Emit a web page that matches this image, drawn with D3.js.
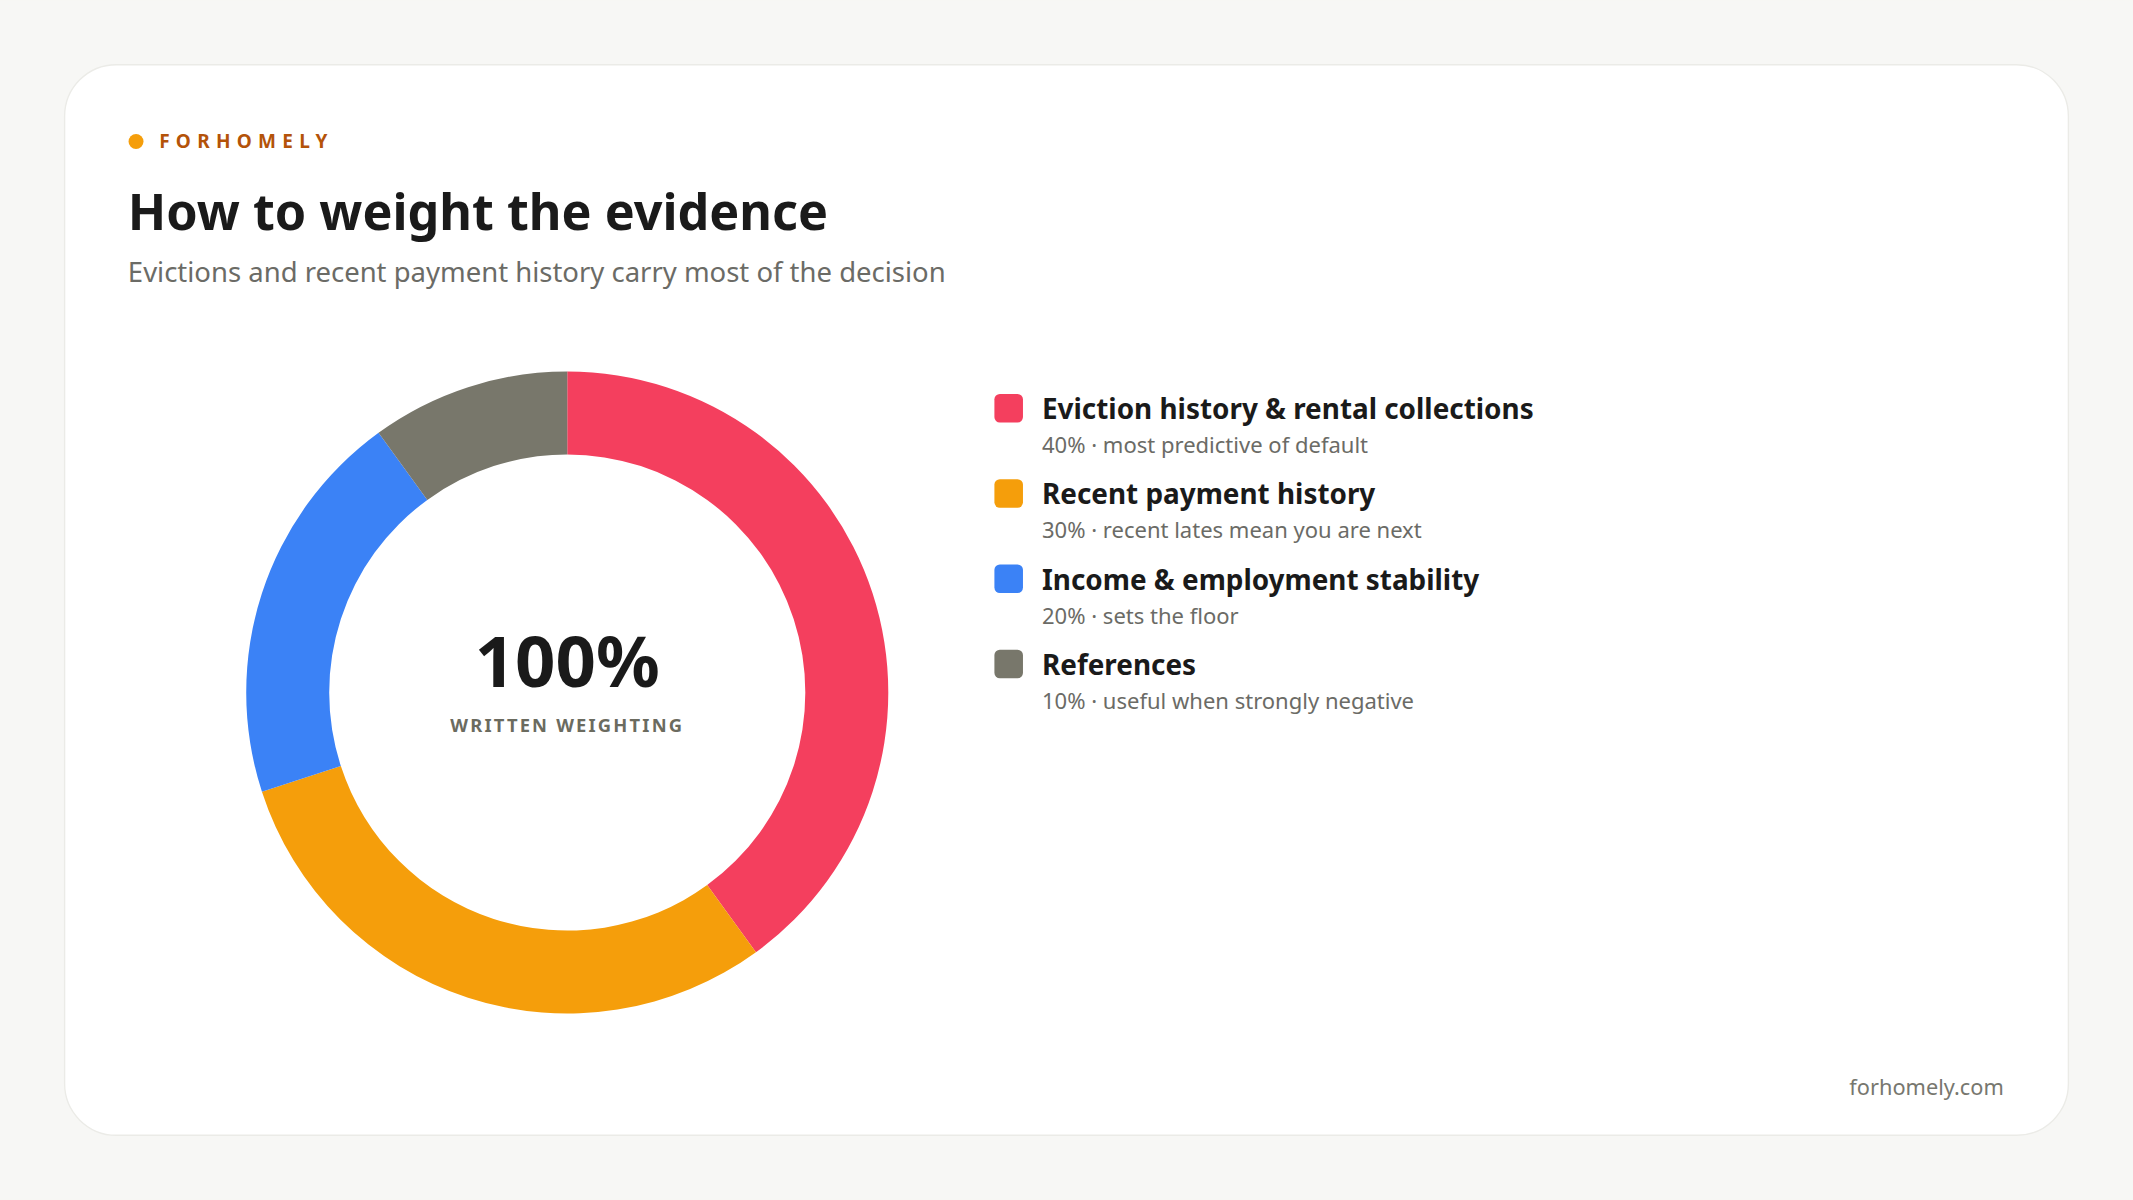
<!DOCTYPE html>
<html>
<head>
<meta charset="utf-8">
<script src="https://cdn.jsdelivr.net/npm/d3@7"></script>
<style>
  html, body { margin: 0; padding: 0; background: #f7f7f5; }
  svg { display: block; font-family: "Noto Sans", "Open Sans", sans-serif; }
</style>
</head>
<body>
<svg id="chart"></svg>
<script>
// data
const labels = ['Eviction history & rental collections', 'Recent payment history', 'Income & employment stability', 'References'];
const weights = [40, 30, 20, 10];
const notes = ['most predictive of default', 'recent lates mean you are next', 'sets the floor', 'useful when strongly negative'];
const colors = ['#f43f5e', '#f59e0b', '#3b82f6', '#78776b'];

// set up constants (drawn in a 1568x882 space, scaled up)
const width = 1568;
const height = 882;
const cx = 417, cy = 509;
const outerR = 236, innerR = 175;

const svg = d3.select('#chart')
  .attr('width', 2133)
  .attr('height', 1200)
  .attr('viewBox', `0 0 ${width} ${height}`);

svg.append('rect').attr('width', width).attr('height', height).attr('fill', '#f7f7f5');

// card
svg.append('rect')
  .attr('x', 47.5).attr('y', 47.5)
  .attr('width', 1473).attr('height', 787)
  .attr('rx', 38)
  .attr('fill', '#fff')
  .attr('stroke', '#ebebe7');

// header
svg.append('circle').attr('cx', 100).attr('cy', 104).attr('r', 5.5).attr('fill', '#f59e0b');
svg.append('text')
  .attr('x', 117).attr('y', 109)
  .attr('font-size', 14).attr('font-weight', 700)
  .attr('letter-spacing', 4.6)
  .attr('fill', '#b45309')
  .text('FORHOMELY');

svg.append('text')
  .attr('x', 94).attr('y', 169)
  .attr('font-size', 37).attr('font-weight', 700)
  .attr('fill', '#1a1a1a')
  .text('How to weight the evidence');

svg.append('text')
  .attr('x', 94).attr('y', 207)
  .attr('font-size', 20.2)
  .attr('fill', '#6b6b66')
  .text('Evictions and recent payment history carry most of the decision');

// donut
const pie = d3.pie().sort(null).value(d => d);
const arc = d3.arc().innerRadius(innerR).outerRadius(outerR);

svg.append('g')
  .attr('transform', `translate(${cx}, ${cy})`)
  .selectAll('path')
  .data(pie(weights))
  .enter()
  .append('path')
  .attr('d', arc)
  .attr('fill', (d, i) => colors[i]);

svg.append('text')
  .attr('x', cx).attr('y', cy - 4)
  .attr('text-anchor', 'middle')
  .attr('font-size', 52).attr('font-weight', 700)
  .attr('fill', '#1a1a1a')
  .text(d3.sum(weights) + '%');

svg.append('text')
  .attr('x', cx).attr('y', cy + 29)
  .attr('text-anchor', 'middle')
  .attr('font-size', 13.5).attr('font-weight', 700)
  .attr('letter-spacing', 1.6)
  .attr('fill', '#6b6b5f')
  .text('WRITTEN WEIGHTING');

// legend
const yLegend = d3.scalePoint().domain(labels).range([300, 488]);

const item = svg.append('g')
  .selectAll('g')
  .data(labels)
  .enter()
  .append('g')
  .attr('transform', d => `translate(731, ${yLegend(d)})`);

item.append('rect')
  .attr('x', 0).attr('y', -10.5)
  .attr('width', 21).attr('height', 21)
  .attr('rx', 4)
  .attr('fill', (d, i) => colors[i]);

item.append('text')
  .attr('x', 35).attr('y', 8)
  .attr('font-size', 20.5).attr('font-weight', 700)
  .attr('fill', '#1a1a1a')
  .text(d => d);

item.append('text')
  .attr('x', 35).attr('y', 33)
  .attr('font-size', 16.2)
  .attr('fill', '#6b6b66')
  .text((d, i) => `${weights[i]}% · ${notes[i]}`);

// footer
svg.append('text')
  .attr('x', 1473).attr('y', 805)
  .attr('text-anchor', 'end')
  .attr('font-size', 16)
  .attr('fill', '#77776f')
  .text('forhomely.com');
</script>
</body>
</html>
